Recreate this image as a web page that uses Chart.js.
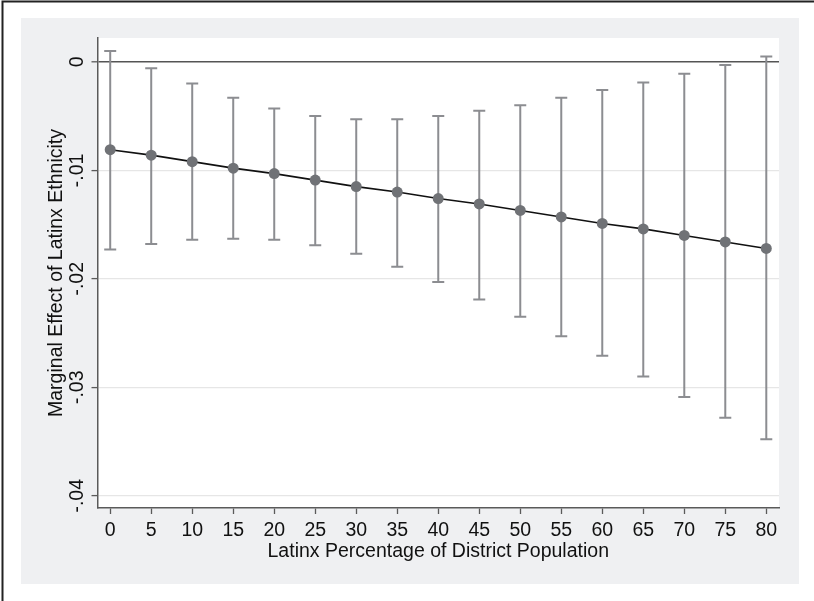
<!DOCTYPE html>
<html lang="en">
<head>
    <meta charset="UTF-8">
    <script src="https://cdn.jsdelivr.net/npm/chart.js"></script>
    <title>Marginal Effect of Latinx Ethnicity</title>
    <style>
        html, body { margin: 0; padding: 0; background: #fff; }
        #wrap { position: relative; width: 814px; height: 601px; }
    </style>
</head>
<body>
<div id="wrap">
    <canvas id="myChart" width="814" height="601"></canvas>
</div>
<script>
// values
var pct = [0, 5, 10, 15, 20, 25, 30, 35, 40, 45, 50, 55, 60, 65, 70, 75, 80];
var effect = [-0.0081, -0.0086, -0.0092, -0.0098, -0.0103, -0.0109, -0.0115, -0.0120, -0.0126,
              -0.0131, -0.0137, -0.0143, -0.0149, -0.0154, -0.0160, -0.0166, -0.0172];
var upper = [0.0010, -0.0006, -0.0020, -0.0033, -0.0043, -0.0050, -0.0053, -0.0053, -0.0050,
             -0.0045, -0.0040, -0.0033, -0.0026, -0.0019, -0.0011, -0.0003, 0.0005];
var lower = [-0.0173, -0.0168, -0.0164, -0.0163, -0.0164, -0.0169, -0.0177, -0.0189, -0.0203,
             -0.0219, -0.0235, -0.0253, -0.0271, -0.0290, -0.0309, -0.0328, -0.0348];
var yTicks = [0, -0.01, -0.02, -0.03, -0.04];
var yTickLabels = ['0', '-.01', '-.02', '-.03', '-.04'];
var xTicks = [0, 5, 10, 15, 20, 25, 30, 35, 40, 45, 50, 55, 60, 65, 70, 75, 80];
var xTitle = 'Latinx Percentage of District Population';
var yTitle = 'Marginal Effect of Latinx Ethnicity';

var FONT = '19.5px "Liberation Sans", Arial, sans-serif';
var AXIS = '#5a5a5a';

var points = pct.map(function (p, i) { return { x: p, y: effect[i] }; });

// gray graph region, frame
var backdrop = {
    id: 'backdrop',
    beforeDraw: function (chart) {
        var c = chart.ctx;
        c.save();
        c.fillStyle = '#fff';
        c.fillRect(0, 0, chart.width, chart.height);
        c.fillStyle = '#eff0f2';
        c.fillRect(21, 18, 778, 566);
        var a = chart.chartArea;
        c.fillStyle = '#fff';
        c.fillRect(a.left, a.top, a.right - a.left, a.bottom - a.top);
        c.strokeStyle = '#222';
        c.lineWidth = 2;
        c.beginPath();
        c.moveTo(2.5, 601);
        c.lineTo(2.5, 1.5);
        c.lineTo(814, 1.5);
        c.stroke();
        c.restore();
    }
};

// confidence interval spikes with caps
var ciBars = {
    id: 'ciBars',
    beforeDatasetsDraw: function (chart) {
        var c = chart.ctx;
        var xs = chart.scales.x, ys = chart.scales.y;
        c.save();
        c.strokeStyle = '#8c8d91';
        c.lineWidth = 2;
        for (var i = 0; i < pct.length; i++) {
            var px = xs.getPixelForValue(pct[i]);
            var top = ys.getPixelForValue(upper[i]);
            var bot = ys.getPixelForValue(lower[i]);
            c.beginPath();
            c.moveTo(px, top);
            c.lineTo(px, bot);
            c.moveTo(px - 6, top);
            c.lineTo(px + 6, top);
            c.moveTo(px - 6, bot);
            c.lineTo(px + 6, bot);
            c.stroke();
        }
        c.restore();
    }
};

// tick labels and axis titles
var labels = {
    id: 'labels',
    afterDraw: function (chart) {
        var c = chart.ctx;
        var xs = chart.scales.x, ys = chart.scales.y;
        var a = chart.chartArea;
        c.save();
        c.fillStyle = '#111';
        c.font = FONT;
        c.textAlign = 'center';
        c.textBaseline = 'alphabetic';
        xTicks.forEach(function (v) {
            c.fillText(String(v), xs.getPixelForValue(v), 536);
        });
        c.fillText(xTitle, (a.left + a.right) / 2, 556.5);
        yTicks.forEach(function (v, i) {
            c.save();
            c.translate(83, ys.getPixelForValue(v));
            c.rotate(-Math.PI / 2);
            c.fillText(yTickLabels[i], 0, 0);
            c.restore();
        });
        c.translate(62, (a.top + a.bottom) / 2);
        c.rotate(-Math.PI / 2);
        c.fillText(yTitle, 0, 0);
        c.restore();
    }
};

var ctx = document.getElementById('myChart').getContext('2d');
var myChart = new Chart(ctx, {
    type: 'line',
    data: {
        datasets: [{
            data: points,
            borderColor: '#111',
            borderWidth: 1.6,
            pointRadius: 5.5,
            pointBackgroundColor: '#707276',
            pointBorderColor: '#707276',
            pointBorderWidth: 0,
            tension: 0,
            fill: false
        }]
    },
    options: {
        responsive: false,
        animation: false,
        devicePixelRatio: 1,
        layout: { padding: { left: 0, top: 38, right: 35, bottom: 0 } },
        plugins: { legend: { display: false }, tooltip: { enabled: false } },
        scales: {
            x: {
                type: 'linear',
                min: -1.55,
                max: 81.55,
                afterBuildTicks: function (s) { s.ticks = xTicks.map(function (v) { return { value: v }; }); },
                afterFit: function (s) { s.height = 93; },
                ticks: { display: false },
                grid: { drawOnChartArea: false, drawTicks: true, tickLength: 6, tickColor: AXIS, tickWidth: 1.3 },
                border: { display: true, color: AXIS, width: 1.5 }
            },
            y: {
                type: 'linear',
                min: -0.04113,
                max: 0.0022,
                afterBuildTicks: function (s) { s.ticks = yTicks.map(function (v) { return { value: v }; }); },
                afterFit: function (s) { s.width = 97.5; },
                ticks: { display: false },
                grid: {
                    drawTicks: true,
                    tickLength: 6,
                    tickColor: AXIS,
                    tickWidth: 1.3,
                    color: function (g) { return g.tick && g.tick.value === 0 ? '#555' : '#e6e6e6'; },
                    lineWidth: function (g) { return g.tick && g.tick.value === 0 ? 1.6 : 1.2; }
                },
                border: { display: true, color: AXIS, width: 1.5 }
            }
        }
    },
    plugins: [backdrop, ciBars, labels]
});
</script>
</body>
</html>
